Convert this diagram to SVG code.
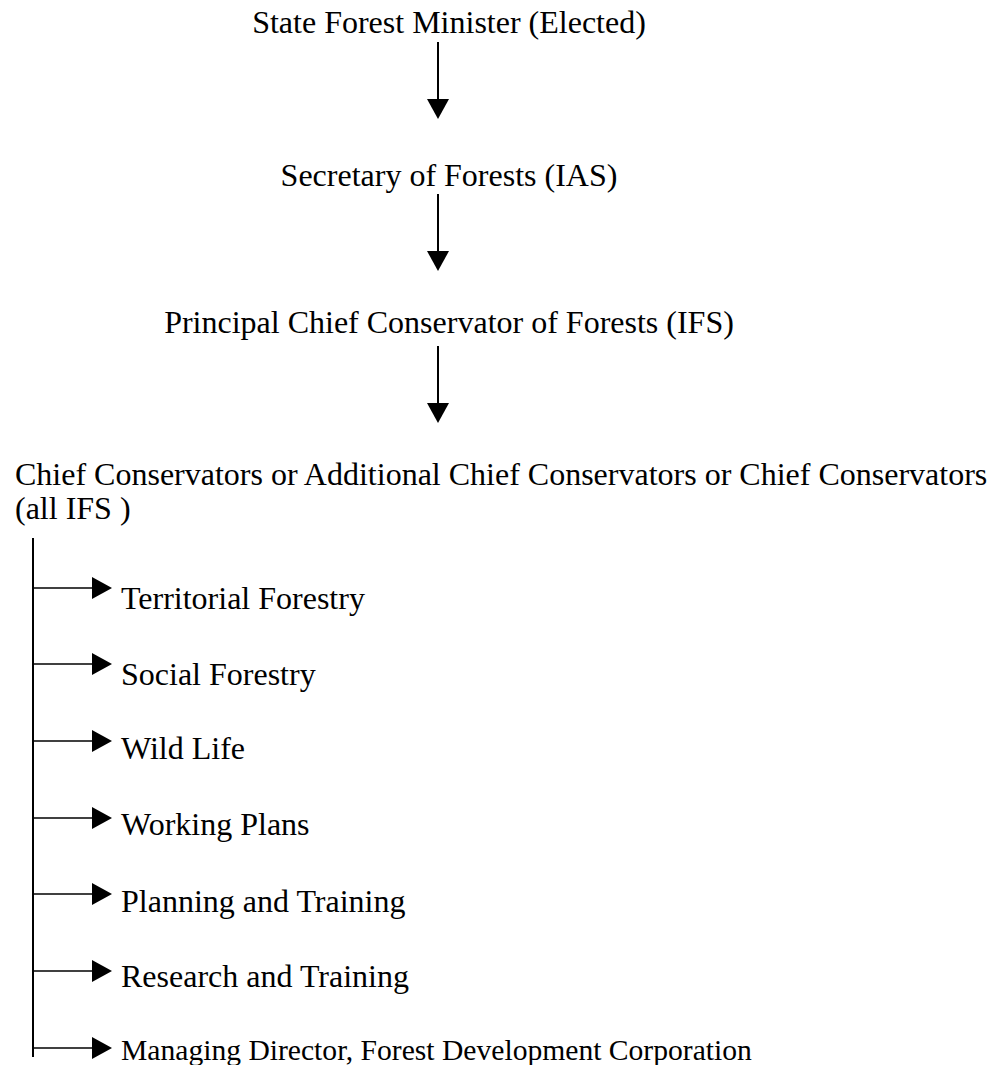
<svg xmlns="http://www.w3.org/2000/svg" width="1000" height="1065" viewBox="0 0 1000 1065">
  <style>
    .t { font-family: "Liberation Serif", "Times New Roman", serif; font-size: 32px; fill: #000; }
    .c { stroke: #000; stroke-width: 2; fill: none; }
    .b { stroke: #000; stroke-width: 1.6; fill: none; }
  </style>
  <defs>
    <marker id="ah" markerUnits="userSpaceOnUse" viewBox="0 0 20 22" markerWidth="20" markerHeight="22" refX="0" refY="11" orient="auto">
      <path d="M0,0 L20,11 L0,22 Z" fill="#000"/>
    </marker>
  </defs>
  <rect x="0" y="0" width="1000" height="1065" fill="#fff"/>

  <g id="minister"><text class="t" x="449" y="33" text-anchor="middle">State Forest Minister (Elected)</text></g>
  <g id="secretary"><text class="t" x="449" y="186" text-anchor="middle">Secretary of Forests (IAS)</text></g>
  <g id="pccf"><text class="t" x="449" y="333" text-anchor="middle">Principal Chief Conservator of Forests (IFS)</text></g>
  <g id="ccf">
    <text class="t" x="15" y="485">Chief Conservators or Additional Chief Conservators or Chief Conservators</text>
    <text class="t" x="15" y="519">(all IFS )</text>
  </g>
  <g id="territorial"><text class="t" x="121" y="609">Territorial Forestry</text></g>
  <g id="social"><text class="t" x="121" y="685">Social Forestry</text></g>
  <g id="wildlife"><text class="t" x="121" y="759">Wild Life</text></g>
  <g id="working"><text class="t" x="121" y="835">Working Plans</text></g>
  <g id="planning"><text class="t" x="121" y="912">Planning and Training</text></g>
  <g id="research"><text class="t" x="121" y="987">Research and Training</text></g>
  <g id="managing"><text class="t" x="121" y="1060" style="font-size:29.6px">Managing Director, Forest Development Corporation</text></g>

  <g id="connectors">
    <line class="c" x1="438" y1="42" x2="438" y2="99" marker-end="url(#ah)"/>
    <line class="c" x1="438" y1="194" x2="438" y2="251" marker-end="url(#ah)"/>
    <line class="c" x1="438" y1="346" x2="438" y2="403" marker-end="url(#ah)"/>
    <line class="c" x1="33" y1="538" x2="33" y2="1057"/>
    <line class="b" x1="33" y1="588" x2="92" y2="588" marker-end="url(#ah)"/>
    <line class="b" x1="33" y1="664" x2="92" y2="664" marker-end="url(#ah)"/>
    <line class="b" x1="33" y1="741" x2="92" y2="741" marker-end="url(#ah)"/>
    <line class="b" x1="33" y1="818" x2="92" y2="818" marker-end="url(#ah)"/>
    <line class="b" x1="33" y1="894" x2="92" y2="894" marker-end="url(#ah)"/>
    <line class="b" x1="33" y1="971" x2="92" y2="971" marker-end="url(#ah)"/>
    <line class="b" x1="33" y1="1048" x2="92" y2="1048" marker-end="url(#ah)"/>
  </g>
</svg>
